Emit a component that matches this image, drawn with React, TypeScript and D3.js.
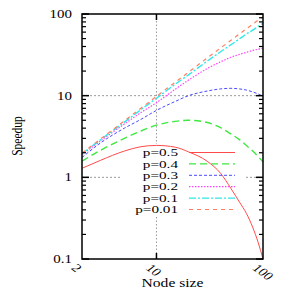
import React from "react";
import * as d3 from "d3";

// node sizes sampled along the x axis
const nodeSizes = [2, 3, 5, 7, 10, 15, 20, 30, 40, 50, 60, 70, 80, 90, 100];

// speedup, one array per p
const p050 = [1.29, 1.62, 2.1, 2.36, 2.46, 2.34, 2.05, 1.57, 1.12, 0.73, 0.5, 0.36, 0.245, 0.16, 0.1];
const p040 = [1.58, 2.15, 3.0, 3.65, 4.35, 4.85, 5.0, 4.7, 4.05, 3.4, 2.9, 2.45, 2.1, 1.8, 1.55];
const p030 = [1.75, 2.65, 4.0, 5.05, 6.6, 8.5, 10.0, 11.4, 12.1, 12.3, 12.1, 11.7, 11.1, 10.5, 9.8];
const p020 = [1.9, 2.8, 4.5, 6.1, 8.2, 12.0, 15.5, 21.5, 26, 29.5, 32, 34, 35.8, 37, 38];
const p010 = [1.95, 2.9, 4.75, 6.6, 9.3, 13.8, 18, 26.5, 34.5, 42, 49.5, 57, 63.5, 70.5, 77];
const p001 = [1.98, 2.96, 4.92, 6.88, 9.8, 14.6, 19.4, 29, 38.4, 47.6, 56.8, 66, 75, 84, 92];

const seriesLabels = ["p=0.5", "p=0.4", "p=0.3", "p=0.2", "p=0.1", "p=0.01"];
const seriesValues = [p050, p040, p030, p020, p010, p001];

const xTicks = [2, 10, 100];
const yTicks = [0.1, 1, 10, 100];
const yTickLabels = ["0.1", "1", "10", "100"];

// gnuplot-ish line styles
const colors = ["#ff4a4a", "#3ee83e", "#4a4aff", "#ff44ff", "#30e8e8", "#ff8060"];
const dashes = ["", "7,4", "3,2", "1.5,1.5", "7,2,2,2", "4,4"];
const widths = [1, 1.4, 1, 1.2, 1.4, 1.2];

const FONT = "'Liberation Serif', 'Times New Roman', serif";
const SX = 1.3; // text in the reference is stretched sideways

export default function App() {
  const W = 291, H = 291;
  const left = 82, right = 263, top = 14, bottom = 259;

  const x = d3.scaleLog().domain([2, 100]).range([left, right]);
  const y = d3.scaleLog().domain([0.1, 100]).range([bottom, top]);

  const line = d3.line<[number, number]>()
    .x(d => x(d[0]))
    .y(d => y(d[1]))
    .curve(d3.curveMonotoneX);

  const minorY: number[] = [];
  [0.1, 1, 10].forEach(dec => {
    for (let k = 2; k <= 9; k++) minorY.push(dec * k);
  });

  const legX = 178, legY0 = 152.5, legStep = 11.4;

  return (
    <svg width={W} height={H} style={{ position: "absolute", left: 0, top: 0, background: "#fff" }}
      fontFamily={FONT}>
      <rect x={0} y={0} width={W} height={H} fill="#fff" />

      {/* grid */}
      <line x1={x(10)} x2={x(10)} y1={top} y2={bottom} stroke="#999" strokeDasharray="1.5,2" />
      {[1, 10].map(v => (
        <line key={v} x1={left} x2={right} y1={y(v)} y2={y(v)} stroke="#999" strokeDasharray="2,2" />
      ))}

      {/* legend background */}
      <rect x={122} y={144} width={123} height={72} fill="#fff" />

      {/* curves */}
      {seriesValues.map((vals, i) => (
        <path key={i}
          d={line(nodeSizes.map((n, j) => [n, vals[j]] as [number, number])) || ""}
          fill="none" stroke={colors[i]} strokeWidth={widths[i]}
          strokeDasharray={dashes[i] || undefined} />
      ))}

      {/* legend */}
      {seriesLabels.map((lab, i) => {
        const ly = legY0 + i * legStep;
        return (
          <g key={lab}>
            <text transform={`translate(${legX},${ly}) scale(1.45,1)`} textAnchor="end"
              dy="0.35em" fontSize={10.5}>{lab}</text>
            <line x1={189} x2={235} y1={ly} y2={ly} stroke={colors[i]} strokeWidth={widths[i]}
              strokeDasharray={dashes[i] || undefined} />
          </g>
        );
      })}

      {/* frame */}
      <rect x={left} y={top} width={right - left} height={bottom - top} fill="none" stroke="#000" strokeWidth={1.5} />

      {/* y ticks, mirrored */}
      {yTicks.map(v => (
        <g key={"M" + v}>
          <line x1={left} x2={left + 7} y1={y(v)} y2={y(v)} stroke="#000" strokeWidth={1.5} />
          <line x1={right} x2={right - 7} y1={y(v)} y2={y(v)} stroke="#000" strokeWidth={1.5} />
        </g>
      ))}
      {minorY.map(v => (
        <g key={"m" + v}>
          <line x1={left} x2={left + 4} y1={y(v)} y2={y(v)} stroke="#000" strokeWidth={1.2} />
          <line x1={right} x2={right - 4} y1={y(v)} y2={y(v)} stroke="#000" strokeWidth={1.2} />
        </g>
      ))}
      {yTicks.map((v, i) => (
        <text key={"yl" + v} transform={`translate(72,${y(v)}) scale(${SX},1)`} textAnchor="end"
          dy="0.35em" fontSize={11.5}>{yTickLabels[i]}</text>
      ))}

      {/* x ticks */}
      <line x1={x(10)} x2={x(10)} y1={bottom} y2={bottom - 6} stroke="#000" strokeWidth={1.5} />
      <line x1={x(10)} x2={x(10)} y1={top} y2={top + 6} stroke="#000" strokeWidth={1.5} />
      {xTicks.map(v => (
        <text key={"xl" + v} transform={`translate(${x(v) - 4},${bottom + 4}) scale(${SX},1) rotate(45)`}
          textAnchor="start" dy="0.7em" fontSize={11.5}>{String(v)}</text>
      ))}

      {/* axis titles */}
      <text transform={`translate(${(left + right) / 2},287) scale(${SX},1)`} textAnchor="middle"
        fontSize={12}>Node size</text>
      <text transform={`translate(22,136) scale(${SX},1) rotate(-90)`} textAnchor="middle"
        fontSize={11.5}>Speedup</text>
    </svg>
  );
}
